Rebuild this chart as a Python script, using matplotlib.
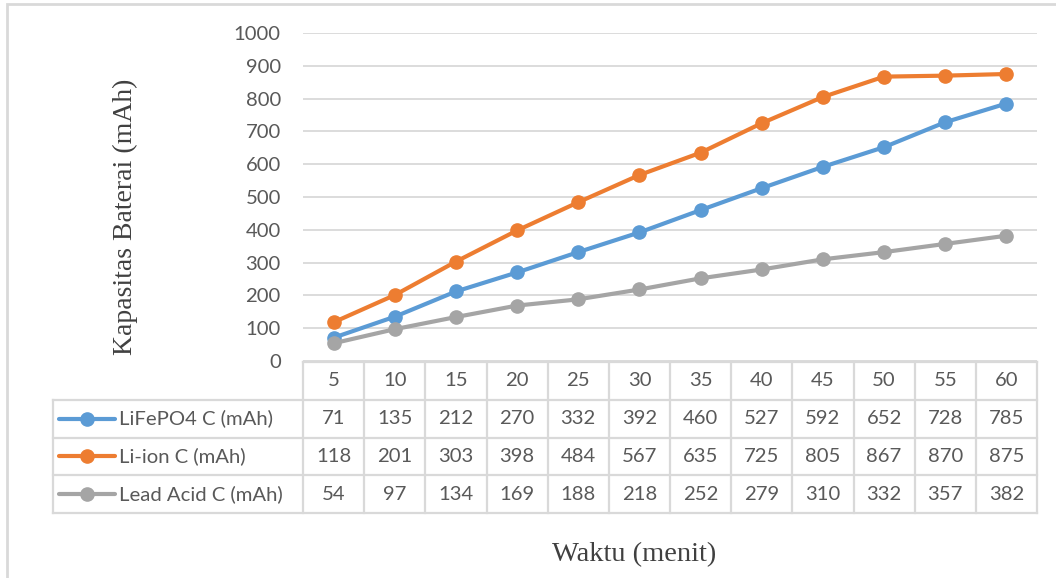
import matplotlib.pyplot as plt
from matplotlib.lines import Line2D
from matplotlib.patches import Rectangle

# capacity readings every 5 minutes
waktu = [5, 10, 15, 20, 25, 30, 35, 40, 45, 50, 55, 60]
lifepo4 = [71, 135, 212, 270, 332, 392, 460, 527, 592, 652, 728, 785]
li_ion = [118, 201, 303, 398, 484, 567, 635, 725, 805, 867, 870, 875]
lead_acid = [54, 97, 134, 169, 188, 218, 252, 279, 310, 332, 357, 382]

series_names = ['LiFePO4 C (mAh)', 'Li-ion C (mAh)', 'Lead Acid C (mAh)']
series_values = [lifepo4, li_ion, lead_acid]
colors = ['#5B9BD5', '#ED7D31', '#A5A5A5']

W, H = 1056, 578
txt_col = '#595959'
grid_col = '#D9D9D9'
sans = 'Lato'
fs = 14.6

fig = plt.figure(figsize=(W / 100, H / 100), dpi=100)


def fx(px):
    return px / W


def fy(py):
    return 1 - py / H


# outer chart border
fig.patches.append(Rectangle((fx(7), fy(H + 10)), fx(W + 10), fy(4) - fy(H + 10),
                             transform=fig.transFigure, fill=False,
                             edgecolor=grid_col, lw=2))

# main plot area
x0, x1 = 303, 1037
ytop, ybot = 33, 361
ax = fig.add_axes([fx(x0), fy(ybot), fx(x1 - x0), fy(ytop) - fy(ybot)])
pos = list(range(len(waktu)))
for vals, c in zip(series_values, colors):
    ax.plot(pos, vals, color=c, lw=3, marker='o', markersize=9.5,
            solid_capstyle='round', zorder=3)
ax.set_xlim(-0.5, len(waktu) - 0.5)
ax.set_ylim(0, 1000)
ax.set_yticks(range(0, 1001, 100))
ax.set_xticks([])
ax.grid(axis='y', color=grid_col, lw=1.3)
ax.set_axisbelow(True)
for s in ax.spines.values():
    s.set_visible(False)
ax.tick_params(axis='y', length=0, pad=16, labelsize=fs, labelcolor=txt_col)
for lab in ax.get_yticklabels():
    lab.set_fontfamily(sans)

# data table under the plot
col_w = (x1 - x0) / len(waktu)
tleft = 53
tab_top, tab_bot = 362, 513
tax = fig.add_axes([fx(tleft), fy(tab_bot), fx(x1 - tleft), fy(tab_top) - fy(tab_bot)])
xl = -0.5 - (x0 - tleft) / col_w
xr = len(waktu) - 0.5
tax.set_xlim(xl, xr)
tax.set_ylim(0, 4)
tax.axis('off')

lkw = dict(color=grid_col, lw=1.6, solid_capstyle='projecting', clip_on=False)
tax.plot([-0.5, xr], [4, 4], **lkw)
for yy in [3, 2, 1, 0]:
    tax.plot([xl, xr], [yy, yy], **lkw)
for k in range(len(waktu) + 1):
    tax.plot([-0.5 + k, -0.5 + k], [0, 4], **lkw)
tax.plot([xl, xl], [0, 3], **lkw)

tkw = dict(ha='center', va='center', fontsize=fs, color=txt_col, family=sans)
for i, w in enumerate(waktu):
    tax.text(i, 3.5, str(w), **tkw)
for r, (name, vals, c) in enumerate(zip(series_names, series_values, colors)):
    yc = 2.5 - r
    for i, v in enumerate(vals):
        tax.text(i, yc, str(v), **tkw)
    lx0 = xl + (59 - tleft) / col_w
    lx1 = xl + (115 - tleft) / col_w
    tax.add_line(Line2D([lx0, lx1], [yc, yc], color=c, lw=3,
                        solid_capstyle='round'))
    tax.add_line(Line2D([(lx0 + lx1) / 2], [yc], color=c, marker='o',
                        markersize=9.5, lw=0))
    tax.text(xl + (119 - tleft) / col_w, yc, name, ha='left', va='center',
             fontsize=fs, color=txt_col, family=sans)

# axis titles
fig.text(fx(125), fy(217), 'Kapasitas Baterai (mAh)', rotation=90,
         ha='center', va='center', fontsize=20, family='Liberation Serif',
         color='#404040')
fig.text(fx(634), fy(555), 'Waktu (menit)', ha='center', va='center',
         fontsize=20.5, family='Liberation Serif', color='#404040')

fig.savefig('out.png', dpi=100)
